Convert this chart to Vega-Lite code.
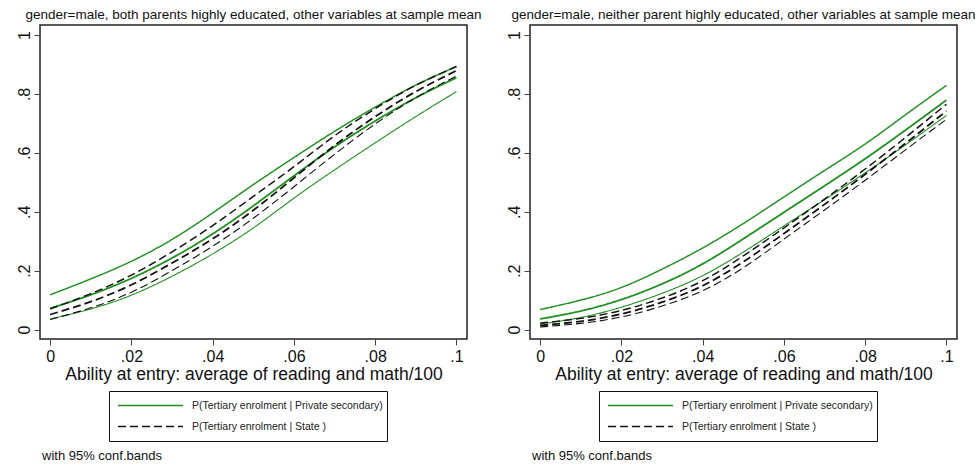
{
  "$schema": "https://vega.github.io/schema/vega-lite/v6.json",
  "background": "white",
  "padding": {"left": 15, "top": 6, "right": 0, "bottom": 4},
  "config": {
    "font": "Liberation Sans",
    "view": {"stroke": "#222", "strokeWidth": 1.5},
    "axis": {"domain": false, "grid": false, "tickColor": "#444", "tickSize": 6, "labelColor": "#111", "titleColor": "#111", "labelFont": "Liberation Sans", "titleFont": "Liberation Sans", "titleFontWeight": "normal"},
    "title": {"font": "Liberation Sans", "fontWeight": "normal", "color": "#111"},
    "legend": {"labelFont": "Liberation Sans"}
  },
  "datasets": {
    "curves": [
      {"panel": "L", "series": "P(Tertiary enrolment | Private secondary)", "band": "hi", "x": 0, "y": 0.118},
      {"panel": "L", "series": "P(Tertiary enrolment | Private secondary)", "band": "hi", "x": 0.01, "y": 0.172},
      {"panel": "L", "series": "P(Tertiary enrolment | Private secondary)", "band": "hi", "x": 0.02, "y": 0.232},
      {"panel": "L", "series": "P(Tertiary enrolment | Private secondary)", "band": "hi", "x": 0.03, "y": 0.306},
      {"panel": "L", "series": "P(Tertiary enrolment | Private secondary)", "band": "hi", "x": 0.04, "y": 0.396},
      {"panel": "L", "series": "P(Tertiary enrolment | Private secondary)", "band": "hi", "x": 0.05, "y": 0.492},
      {"panel": "L", "series": "P(Tertiary enrolment | Private secondary)", "band": "hi", "x": 0.06, "y": 0.584},
      {"panel": "L", "series": "P(Tertiary enrolment | Private secondary)", "band": "hi", "x": 0.07, "y": 0.673},
      {"panel": "L", "series": "P(Tertiary enrolment | Private secondary)", "band": "hi", "x": 0.08, "y": 0.755},
      {"panel": "L", "series": "P(Tertiary enrolment | Private secondary)", "band": "hi", "x": 0.09, "y": 0.830},
      {"panel": "L", "series": "P(Tertiary enrolment | Private secondary)", "band": "hi", "x": 0.1, "y": 0.893},
      {"panel": "L", "series": "P(Tertiary enrolment | Private secondary)", "band": "mean", "x": 0, "y": 0.072},
      {"panel": "L", "series": "P(Tertiary enrolment | Private secondary)", "band": "mean", "x": 0.01, "y": 0.118},
      {"panel": "L", "series": "P(Tertiary enrolment | Private secondary)", "band": "mean", "x": 0.02, "y": 0.174},
      {"panel": "L", "series": "P(Tertiary enrolment | Private secondary)", "band": "mean", "x": 0.03, "y": 0.243},
      {"panel": "L", "series": "P(Tertiary enrolment | Private secondary)", "band": "mean", "x": 0.04, "y": 0.325},
      {"panel": "L", "series": "P(Tertiary enrolment | Private secondary)", "band": "mean", "x": 0.05, "y": 0.420},
      {"panel": "L", "series": "P(Tertiary enrolment | Private secondary)", "band": "mean", "x": 0.06, "y": 0.522},
      {"panel": "L", "series": "P(Tertiary enrolment | Private secondary)", "band": "mean", "x": 0.07, "y": 0.620},
      {"panel": "L", "series": "P(Tertiary enrolment | Private secondary)", "band": "mean", "x": 0.08, "y": 0.708},
      {"panel": "L", "series": "P(Tertiary enrolment | Private secondary)", "band": "mean", "x": 0.09, "y": 0.787},
      {"panel": "L", "series": "P(Tertiary enrolment | Private secondary)", "band": "mean", "x": 0.1, "y": 0.855},
      {"panel": "L", "series": "P(Tertiary enrolment | Private secondary)", "band": "lo", "x": 0, "y": 0.036},
      {"panel": "L", "series": "P(Tertiary enrolment | Private secondary)", "band": "lo", "x": 0.01, "y": 0.070},
      {"panel": "L", "series": "P(Tertiary enrolment | Private secondary)", "band": "lo", "x": 0.02, "y": 0.117},
      {"panel": "L", "series": "P(Tertiary enrolment | Private secondary)", "band": "lo", "x": 0.03, "y": 0.181},
      {"panel": "L", "series": "P(Tertiary enrolment | Private secondary)", "band": "lo", "x": 0.04, "y": 0.257},
      {"panel": "L", "series": "P(Tertiary enrolment | Private secondary)", "band": "lo", "x": 0.05, "y": 0.345},
      {"panel": "L", "series": "P(Tertiary enrolment | Private secondary)", "band": "lo", "x": 0.06, "y": 0.446},
      {"panel": "L", "series": "P(Tertiary enrolment | Private secondary)", "band": "lo", "x": 0.07, "y": 0.542},
      {"panel": "L", "series": "P(Tertiary enrolment | Private secondary)", "band": "lo", "x": 0.08, "y": 0.634},
      {"panel": "L", "series": "P(Tertiary enrolment | Private secondary)", "band": "lo", "x": 0.09, "y": 0.723},
      {"panel": "L", "series": "P(Tertiary enrolment | Private secondary)", "band": "lo", "x": 0.1, "y": 0.808},
      {"panel": "L", "series": "P(Tertiary enrolment | State )", "band": "hi", "x": 0, "y": 0.070},
      {"panel": "L", "series": "P(Tertiary enrolment | State )", "band": "hi", "x": 0.01, "y": 0.122},
      {"panel": "L", "series": "P(Tertiary enrolment | State )", "band": "hi", "x": 0.02, "y": 0.185},
      {"panel": "L", "series": "P(Tertiary enrolment | State )", "band": "hi", "x": 0.03, "y": 0.264},
      {"panel": "L", "series": "P(Tertiary enrolment | State )", "band": "hi", "x": 0.04, "y": 0.353},
      {"panel": "L", "series": "P(Tertiary enrolment | State )", "band": "hi", "x": 0.05, "y": 0.452},
      {"panel": "L", "series": "P(Tertiary enrolment | State )", "band": "hi", "x": 0.06, "y": 0.553},
      {"panel": "L", "series": "P(Tertiary enrolment | State )", "band": "hi", "x": 0.07, "y": 0.658},
      {"panel": "L", "series": "P(Tertiary enrolment | State )", "band": "hi", "x": 0.08, "y": 0.750},
      {"panel": "L", "series": "P(Tertiary enrolment | State )", "band": "hi", "x": 0.09, "y": 0.829},
      {"panel": "L", "series": "P(Tertiary enrolment | State )", "band": "hi", "x": 0.1, "y": 0.893},
      {"panel": "L", "series": "P(Tertiary enrolment | State )", "band": "mean", "x": 0, "y": 0.051},
      {"panel": "L", "series": "P(Tertiary enrolment | State )", "band": "mean", "x": 0.01, "y": 0.095},
      {"panel": "L", "series": "P(Tertiary enrolment | State )", "band": "mean", "x": 0.02, "y": 0.152},
      {"panel": "L", "series": "P(Tertiary enrolment | State )", "band": "mean", "x": 0.03, "y": 0.226},
      {"panel": "L", "series": "P(Tertiary enrolment | State )", "band": "mean", "x": 0.04, "y": 0.308},
      {"panel": "L", "series": "P(Tertiary enrolment | State )", "band": "mean", "x": 0.05, "y": 0.405},
      {"panel": "L", "series": "P(Tertiary enrolment | State )", "band": "mean", "x": 0.06, "y": 0.515},
      {"panel": "L", "series": "P(Tertiary enrolment | State )", "band": "mean", "x": 0.07, "y": 0.625},
      {"panel": "L", "series": "P(Tertiary enrolment | State )", "band": "mean", "x": 0.08, "y": 0.723},
      {"panel": "L", "series": "P(Tertiary enrolment | State )", "band": "mean", "x": 0.09, "y": 0.808},
      {"panel": "L", "series": "P(Tertiary enrolment | State )", "band": "mean", "x": 0.1, "y": 0.879},
      {"panel": "L", "series": "P(Tertiary enrolment | State )", "band": "lo", "x": 0, "y": 0.034},
      {"panel": "L", "series": "P(Tertiary enrolment | State )", "band": "lo", "x": 0.01, "y": 0.074},
      {"panel": "L", "series": "P(Tertiary enrolment | State )", "band": "lo", "x": 0.02, "y": 0.127},
      {"panel": "L", "series": "P(Tertiary enrolment | State )", "band": "lo", "x": 0.03, "y": 0.200},
      {"panel": "L", "series": "P(Tertiary enrolment | State )", "band": "lo", "x": 0.04, "y": 0.283},
      {"panel": "L", "series": "P(Tertiary enrolment | State )", "band": "lo", "x": 0.05, "y": 0.378},
      {"panel": "L", "series": "P(Tertiary enrolment | State )", "band": "lo", "x": 0.06, "y": 0.485},
      {"panel": "L", "series": "P(Tertiary enrolment | State )", "band": "lo", "x": 0.07, "y": 0.595},
      {"panel": "L", "series": "P(Tertiary enrolment | State )", "band": "lo", "x": 0.08, "y": 0.698},
      {"panel": "L", "series": "P(Tertiary enrolment | State )", "band": "lo", "x": 0.09, "y": 0.787},
      {"panel": "L", "series": "P(Tertiary enrolment | State )", "band": "lo", "x": 0.1, "y": 0.861},
      {"panel": "R", "series": "P(Tertiary enrolment | Private secondary)", "band": "hi", "x": 0, "y": 0.068},
      {"panel": "R", "series": "P(Tertiary enrolment | Private secondary)", "band": "hi", "x": 0.01, "y": 0.100},
      {"panel": "R", "series": "P(Tertiary enrolment | Private secondary)", "band": "hi", "x": 0.02, "y": 0.143},
      {"panel": "R", "series": "P(Tertiary enrolment | Private secondary)", "band": "hi", "x": 0.03, "y": 0.205},
      {"panel": "R", "series": "P(Tertiary enrolment | Private secondary)", "band": "hi", "x": 0.04, "y": 0.277},
      {"panel": "R", "series": "P(Tertiary enrolment | Private secondary)", "band": "hi", "x": 0.05, "y": 0.360},
      {"panel": "R", "series": "P(Tertiary enrolment | Private secondary)", "band": "hi", "x": 0.06, "y": 0.450},
      {"panel": "R", "series": "P(Tertiary enrolment | Private secondary)", "band": "hi", "x": 0.07, "y": 0.540},
      {"panel": "R", "series": "P(Tertiary enrolment | Private secondary)", "band": "hi", "x": 0.08, "y": 0.630},
      {"panel": "R", "series": "P(Tertiary enrolment | Private secondary)", "band": "hi", "x": 0.09, "y": 0.730},
      {"panel": "R", "series": "P(Tertiary enrolment | Private secondary)", "band": "hi", "x": 0.1, "y": 0.829},
      {"panel": "R", "series": "P(Tertiary enrolment | Private secondary)", "band": "mean", "x": 0, "y": 0.036},
      {"panel": "R", "series": "P(Tertiary enrolment | Private secondary)", "band": "mean", "x": 0.01, "y": 0.063},
      {"panel": "R", "series": "P(Tertiary enrolment | Private secondary)", "band": "mean", "x": 0.02, "y": 0.102},
      {"panel": "R", "series": "P(Tertiary enrolment | Private secondary)", "band": "mean", "x": 0.03, "y": 0.155},
      {"panel": "R", "series": "P(Tertiary enrolment | Private secondary)", "band": "mean", "x": 0.04, "y": 0.223},
      {"panel": "R", "series": "P(Tertiary enrolment | Private secondary)", "band": "mean", "x": 0.05, "y": 0.308},
      {"panel": "R", "series": "P(Tertiary enrolment | Private secondary)", "band": "mean", "x": 0.06, "y": 0.398},
      {"panel": "R", "series": "P(Tertiary enrolment | Private secondary)", "band": "mean", "x": 0.07, "y": 0.488},
      {"panel": "R", "series": "P(Tertiary enrolment | Private secondary)", "band": "mean", "x": 0.08, "y": 0.580},
      {"panel": "R", "series": "P(Tertiary enrolment | Private secondary)", "band": "mean", "x": 0.09, "y": 0.678},
      {"panel": "R", "series": "P(Tertiary enrolment | Private secondary)", "band": "mean", "x": 0.1, "y": 0.779},
      {"panel": "R", "series": "P(Tertiary enrolment | Private secondary)", "band": "lo", "x": 0, "y": 0.019},
      {"panel": "R", "series": "P(Tertiary enrolment | Private secondary)", "band": "lo", "x": 0.01, "y": 0.041},
      {"panel": "R", "series": "P(Tertiary enrolment | Private secondary)", "band": "lo", "x": 0.02, "y": 0.076},
      {"panel": "R", "series": "P(Tertiary enrolment | Private secondary)", "band": "lo", "x": 0.03, "y": 0.123},
      {"panel": "R", "series": "P(Tertiary enrolment | Private secondary)", "band": "lo", "x": 0.04, "y": 0.183},
      {"panel": "R", "series": "P(Tertiary enrolment | Private secondary)", "band": "lo", "x": 0.05, "y": 0.263},
      {"panel": "R", "series": "P(Tertiary enrolment | Private secondary)", "band": "lo", "x": 0.06, "y": 0.352},
      {"panel": "R", "series": "P(Tertiary enrolment | Private secondary)", "band": "lo", "x": 0.07, "y": 0.441},
      {"panel": "R", "series": "P(Tertiary enrolment | Private secondary)", "band": "lo", "x": 0.08, "y": 0.532},
      {"panel": "R", "series": "P(Tertiary enrolment | Private secondary)", "band": "lo", "x": 0.09, "y": 0.628},
      {"panel": "R", "series": "P(Tertiary enrolment | Private secondary)", "band": "lo", "x": 0.1, "y": 0.727},
      {"panel": "R", "series": "P(Tertiary enrolment | State )", "band": "hi", "x": 0, "y": 0.022},
      {"panel": "R", "series": "P(Tertiary enrolment | State )", "band": "hi", "x": 0.01, "y": 0.038},
      {"panel": "R", "series": "P(Tertiary enrolment | State )", "band": "hi", "x": 0.02, "y": 0.065},
      {"panel": "R", "series": "P(Tertiary enrolment | State )", "band": "hi", "x": 0.03, "y": 0.107},
      {"panel": "R", "series": "P(Tertiary enrolment | State )", "band": "hi", "x": 0.04, "y": 0.166},
      {"panel": "R", "series": "P(Tertiary enrolment | State )", "band": "hi", "x": 0.05, "y": 0.250},
      {"panel": "R", "series": "P(Tertiary enrolment | State )", "band": "hi", "x": 0.06, "y": 0.345},
      {"panel": "R", "series": "P(Tertiary enrolment | State )", "band": "hi", "x": 0.07, "y": 0.443},
      {"panel": "R", "series": "P(Tertiary enrolment | State )", "band": "hi", "x": 0.08, "y": 0.545},
      {"panel": "R", "series": "P(Tertiary enrolment | State )", "band": "hi", "x": 0.09, "y": 0.653},
      {"panel": "R", "series": "P(Tertiary enrolment | State )", "band": "hi", "x": 0.1, "y": 0.765},
      {"panel": "R", "series": "P(Tertiary enrolment | State )", "band": "mean", "x": 0, "y": 0.014},
      {"panel": "R", "series": "P(Tertiary enrolment | State )", "band": "mean", "x": 0.01, "y": 0.028},
      {"panel": "R", "series": "P(Tertiary enrolment | State )", "band": "mean", "x": 0.02, "y": 0.053},
      {"panel": "R", "series": "P(Tertiary enrolment | State )", "band": "mean", "x": 0.03, "y": 0.093},
      {"panel": "R", "series": "P(Tertiary enrolment | State )", "band": "mean", "x": 0.04, "y": 0.149},
      {"panel": "R", "series": "P(Tertiary enrolment | State )", "band": "mean", "x": 0.05, "y": 0.230},
      {"panel": "R", "series": "P(Tertiary enrolment | State )", "band": "mean", "x": 0.06, "y": 0.326},
      {"panel": "R", "series": "P(Tertiary enrolment | State )", "band": "mean", "x": 0.07, "y": 0.425},
      {"panel": "R", "series": "P(Tertiary enrolment | State )", "band": "mean", "x": 0.08, "y": 0.527},
      {"panel": "R", "series": "P(Tertiary enrolment | State )", "band": "mean", "x": 0.09, "y": 0.633},
      {"panel": "R", "series": "P(Tertiary enrolment | State )", "band": "mean", "x": 0.1, "y": 0.742},
      {"panel": "R", "series": "P(Tertiary enrolment | State )", "band": "lo", "x": 0, "y": 0.009},
      {"panel": "R", "series": "P(Tertiary enrolment | State )", "band": "lo", "x": 0.01, "y": 0.021},
      {"panel": "R", "series": "P(Tertiary enrolment | State )", "band": "lo", "x": 0.02, "y": 0.043},
      {"panel": "R", "series": "P(Tertiary enrolment | State )", "band": "lo", "x": 0.03, "y": 0.080},
      {"panel": "R", "series": "P(Tertiary enrolment | State )", "band": "lo", "x": 0.04, "y": 0.132},
      {"panel": "R", "series": "P(Tertiary enrolment | State )", "band": "lo", "x": 0.05, "y": 0.210},
      {"panel": "R", "series": "P(Tertiary enrolment | State )", "band": "lo", "x": 0.06, "y": 0.307},
      {"panel": "R", "series": "P(Tertiary enrolment | State )", "band": "lo", "x": 0.07, "y": 0.406},
      {"panel": "R", "series": "P(Tertiary enrolment | State )", "band": "lo", "x": 0.08, "y": 0.507},
      {"panel": "R", "series": "P(Tertiary enrolment | State )", "band": "lo", "x": 0.09, "y": 0.611},
      {"panel": "R", "series": "P(Tertiary enrolment | State )", "band": "lo", "x": 0.1, "y": 0.714}
    ]
  },
  "spacing": 22,
  "resolve": {"scale": {"color": "independent", "strokeDash": "independent", "strokeWidth": "independent", "x": "independent", "y": "independent"}, "legend": {"color": "independent", "strokeDash": "independent"}, "axis": {"x": "independent", "y": "independent"}},
  "hconcat": [
    {
      "title": {"text": "with 95% conf.bands", "orient": "bottom", "anchor": "start", "frame": "group", "fontSize": 13, "offset": 8, "dx": 2},
      "resolve": {"scale": {"color": "independent", "strokeDash": "independent"}, "legend": {"color": "independent", "strokeDash": "independent"}},
      "vconcat": [
        {
          "title": {"text": "gender=male, both parents highly educated, other variables at sample mean", "fontSize": 13.5, "offset": 4},
          "width": 427,
          "height": 314,
          "data": {"name": "curves"},
          "transform": [{"filter": "datum.panel == 'L'"}],
          "mark": {"type": "line", "interpolate": "natural"},
          "encoding": {
            "x": {"field": "x", "type": "quantitative", "scale": {"domain": [-0.0025, 0.1026], "nice": false, "zero": false},
                  "axis": {"values": [0, 0.02, 0.04, 0.06, 0.08, 0.1], "labelExpr": "datum.value == 0 ? '0' : datum.value > 0.099 ? '.1' : '.0' + format(datum.value * 100, 'd')", "labelFontSize": 16, "labelPadding": 3, "title": "Ability at entry: average of reading and math/100", "titleFontSize": 17.5, "titlePadding": 1}},
            "y": {"field": "y", "type": "quantitative", "scale": {"domain": [-0.032, 1.034], "nice": false, "zero": false},
                  "axis": {"values": [0, 0.2, 0.4, 0.6, 0.8, 1], "labelExpr": "datum.value == 0 ? '0' : datum.value == 1 ? '1' : '.' + format(datum.value * 10, 'd')", "labelAngle": -90, "labelFontSize": 16, "labelPadding": 2, "title": null}},
            "color": {"field": "series", "type": "nominal", "scale": {"domain": ["P(Tertiary enrolment | Private secondary)", "P(Tertiary enrolment | State )"], "range": ["#1f8f1f", "#111111"]},
                      "legend": {"title": null, "orient": "none", "legendX": 69, "legendY": 366, "direction": "vertical", "symbolType": "stroke", "symbolSize": 4225, "symbolStrokeWidth": 1.6, "clipHeight": 21, "rowPadding": 0, "padding": 4, "symbolOffset": 4, "labelOffset": 8, "labelFontSize": 10.5, "labelColor": "#222", "labelLimit": 400, "strokeColor": "#111", "fillColor": "white"}},
            "strokeDash": {"field": "series", "type": "nominal", "scale": {"domain": ["P(Tertiary enrolment | Private secondary)", "P(Tertiary enrolment | State )"], "range": [[1, 0], [8, 4]]},
                      "legend": {"title": null, "orient": "none", "legendX": 69, "legendY": 366, "direction": "vertical", "symbolType": "stroke", "symbolSize": 4225, "symbolStrokeWidth": 1.6, "clipHeight": 21, "rowPadding": 0, "padding": 4, "symbolOffset": 4, "labelOffset": 8, "labelFontSize": 10.5, "labelColor": "#222", "labelLimit": 400, "strokeColor": "#111", "fillColor": "white"}},
            "strokeWidth": {"field": "band", "type": "nominal", "scale": {"domain": ["mean", "hi", "lo"], "range": [1.8, 1.1, 1.1]}, "legend": null},
            "detail": {"field": "band"}
          }
        }
      ]
    },
    {
      "title": {"text": "with 95% conf.bands", "orient": "bottom", "anchor": "start", "frame": "group", "fontSize": 13, "offset": 8, "dx": 2},
      "resolve": {"scale": {"color": "independent", "strokeDash": "independent"}, "legend": {"color": "independent", "strokeDash": "independent"}},
      "vconcat": [
        {
          "title": {"text": "gender=male, neither parent highly educated, other variables at sample mean", "fontSize": 13.5, "offset": 4},
          "width": 427,
          "height": 314,
          "data": {"name": "curves"},
          "transform": [{"filter": "datum.panel == 'R'"}],
          "mark": {"type": "line", "interpolate": "natural"},
          "encoding": {
            "x": {"field": "x", "type": "quantitative", "scale": {"domain": [-0.0025, 0.1026], "nice": false, "zero": false},
                  "axis": {"values": [0, 0.02, 0.04, 0.06, 0.08, 0.1], "labelExpr": "datum.value == 0 ? '0' : datum.value > 0.099 ? '.1' : '.0' + format(datum.value * 100, 'd')", "labelFontSize": 16, "labelPadding": 3, "title": "Ability at entry: average of reading and math/100", "titleFontSize": 17.5, "titlePadding": 1}},
            "y": {"field": "y", "type": "quantitative", "scale": {"domain": [-0.032, 1.034], "nice": false, "zero": false},
                  "axis": {"values": [0, 0.2, 0.4, 0.6, 0.8, 1], "labelExpr": "datum.value == 0 ? '0' : datum.value == 1 ? '1' : '.' + format(datum.value * 10, 'd')", "labelAngle": -90, "labelFontSize": 16, "labelPadding": 2, "title": null}},
            "color": {"field": "series", "type": "nominal", "scale": {"domain": ["P(Tertiary enrolment | Private secondary)", "P(Tertiary enrolment | State )"], "range": ["#1f8f1f", "#111111"]},
                      "legend": {"title": null, "orient": "none", "legendX": 69, "legendY": 366, "direction": "vertical", "symbolType": "stroke", "symbolSize": 4225, "symbolStrokeWidth": 1.6, "clipHeight": 21, "rowPadding": 0, "padding": 4, "symbolOffset": 4, "labelOffset": 8, "labelFontSize": 10.5, "labelColor": "#222", "labelLimit": 400, "strokeColor": "#111", "fillColor": "white"}},
            "strokeDash": {"field": "series", "type": "nominal", "scale": {"domain": ["P(Tertiary enrolment | Private secondary)", "P(Tertiary enrolment | State )"], "range": [[1, 0], [8, 4]]},
                      "legend": {"title": null, "orient": "none", "legendX": 69, "legendY": 366, "direction": "vertical", "symbolType": "stroke", "symbolSize": 4225, "symbolStrokeWidth": 1.6, "clipHeight": 21, "rowPadding": 0, "padding": 4, "symbolOffset": 4, "labelOffset": 8, "labelFontSize": 10.5, "labelColor": "#222", "labelLimit": 400, "strokeColor": "#111", "fillColor": "white"}},
            "strokeWidth": {"field": "band", "type": "nominal", "scale": {"domain": ["mean", "hi", "lo"], "range": [1.8, 1.1, 1.1]}, "legend": null},
            "detail": {"field": "band"}
          }
        }
      ]
    }
  ]
}
